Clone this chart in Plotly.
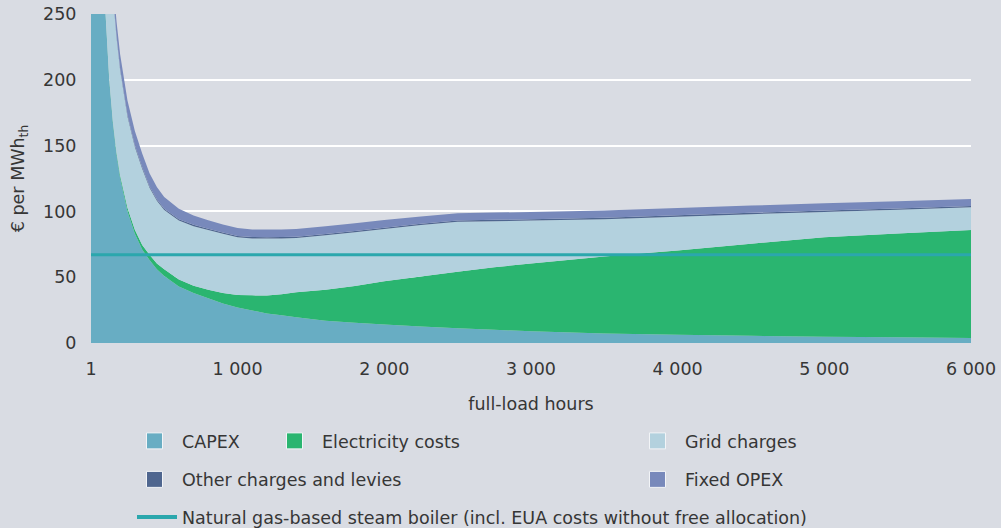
import plotly.graph_objects as go

# ---------------- data ----------------
hours = [1, 25, 50, 75, 100, 125, 150, 175, 200, 250, 300, 350, 400, 450, 500,
         600, 700, 800, 900, 1000, 1100, 1200, 1300, 1400, 1600, 1800, 2000,
         2250, 2500, 2750, 3000, 3500, 4000, 4500, 5000, 5500, 6000]

capex = [25000, 1000, 500, 333, 250, 200, 167, 143, 125, 100, 83, 71, 63, 56, 51,
         43, 38, 34, 30, 27, 24.7, 22.5, 21, 19.5, 17, 15.3, 14,
         12.5, 11.2, 10, 9, 7.3, 6.3, 5.5, 4.8, 4.3, 3.8]

electricity = [0, 0.5, 0.8, 0.9, 1, 1.3, 1.5, 1.8, 2, 2.5, 3, 3.5, 4, 4.5, 5,
               5.3, 5.5, 6.5, 8, 9.5, 11.5, 13.5, 16, 19, 23.5, 28, 33,
               38, 43, 47.5, 51.5, 58.5, 64, 70, 75.5, 79, 82]

grid_charges = [9694, 387.5, 227.5, 164.5, 130.5, 109.5, 96.5, 87.5, 80, 69.5, 63, 58, 51, 47.5, 45,
                44.7, 45.3, 45.4, 45, 43.9, 43.3, 43.4, 42.5, 41.3, 41.4, 40.9, 39.6,
                39.2, 37.9, 35.1, 32.5, 28.3, 25.7, 22.4, 19.3, 17.9, 17.3]

other_charges = [1, 1, 1, 1, 1, 1, 1, 1, 1, 1, 1, 1, 1, 1, 1,
                 1, 1, 1, 1, 1, 1, 1, 1, 1, 1, 1, 1,
                 1, 1, 1, 1, 1, 1, 1, 1, 1, 1]

fixed_opex = [11, 11, 11, 11, 11, 11, 11, 11, 11, 11, 11, 10.5, 10, 9.5, 9,
              8, 7, 6.3, 6, 5.9, 5.8, 5.8, 5.8, 5.8, 5.8, 5.8, 5.8,
              5.5, 5.5, 5.5, 5.5, 5.5, 5.5, 5.5, 5.5, 5.5, 5.3]

gas_hours = [1, 6000]
gas_boiler = [67, 67]

x_tickvals = [1, 1000, 2000, 3000, 4000, 5000, 6000]
x_ticktext = ["1", "1 000", "2 000", "3 000", "4 000", "5 000", "6 000"]
y_tickvals = [0, 50, 100, 150, 200, 250]

series = [
    ("CAPEX", capex, "#68adc3"),
    ("Electricity costs", electricity, "#2ab570"),
    ("Grid charges", grid_charges, "#b3d1de"),
    ("Other charges and levies", other_charges, "#4f668f"),
    ("Fixed OPEX", fixed_opex, "#7889bb"),
]
legend_of = {
    "CAPEX": "legend",
    "Electricity costs": "legend2",
    "Grid charges": "legend3",
    "Other charges and levies": "legend4",
    "Fixed OPEX": "legend5",
}

BG = "#d9dce3"
TXT = "#363636"
FONT = "DejaVu Sans"
FS = 17.5

fig = go.Figure()

for name, vals, col in series:
    fig.add_trace(go.Scatter(
        x=hours, y=vals, name=name, stackgroup="one", mode="none",
        fillcolor=col, showlegend=False, hoverinfo="skip",
    ))

fig.add_trace(go.Scatter(
    x=gas_hours, y=gas_boiler, mode="lines",
    line=dict(color="#2ba7ad", width=3), showlegend=False, hoverinfo="skip",
))

# legend entries
for name, vals, col in series:
    fig.add_trace(go.Scatter(
        x=[None], y=[None], mode="markers", name=name,
        marker=dict(symbol="square", size=16, color=col,
                    line=dict(color="#f2f4f7", width=1)),
        legend=legend_of[name], hoverinfo="skip",
    ))
fig.add_trace(go.Scatter(
    x=[None], y=[None], mode="lines",
    name="Natural gas-based steam boiler (incl. EUA costs without free allocation)",
    line=dict(color="#2ba7ad", width=4), legend="legend6", hoverinfo="skip",
))

def px_x(p):
    return (p - 91) / 880.0

def px_y(p):
    return (343 - p) / 329.0

leg_common = dict(font=dict(family=FONT, size=FS, color=TXT), bgcolor="rgba(0,0,0,0)",
                  xanchor="left", yanchor="top", itemwidth=45, borderwidth=0)

row1, row2, row3 = 423, 461.5, 499

fig.update_layout(
    width=1001, height=528,
    paper_bgcolor=BG, plot_bgcolor=BG,
    margin=dict(l=91, r=30, t=14, b=185, autoexpand=False),
    font=dict(family=FONT, size=FS, color=TXT),
    showlegend=True,
    legend=dict(x=px_x(127), y=px_y(row1), **leg_common),
    legend2=dict(x=px_x(267), y=px_y(row1), **leg_common),
    legend3=dict(x=px_x(630), y=px_y(row1), **leg_common),
    legend4=dict(x=px_x(127), y=px_y(row2), **leg_common),
    legend5=dict(x=px_x(630), y=px_y(row2), **leg_common),
    legend6=dict(x=px_x(132), y=px_y(row3), **{**leg_common, "itemwidth": 40}),
    xaxis=dict(
        range=[1, 6000], tickvals=x_tickvals, ticktext=x_ticktext,
        showgrid=False, zeroline=False, showline=False,
        ticks="outside", ticklen=10, tickcolor=BG,
        tickfont=dict(family=FONT, size=FS, color=TXT),
        title=dict(text="full-load hours", font=dict(family=FONT, size=FS, color=TXT), standoff=19),
    ),
    yaxis=dict(
        range=[0, 250], tickvals=y_tickvals,
        showgrid=True, gridcolor="white", gridwidth=2,
        zeroline=False, showline=False,
        ticks="outside", ticklen=10, tickcolor=BG,
        tickfont=dict(family=FONT, size=FS, color=TXT),
        title=dict(text="€ per MWh<sub>th</sub>", font=dict(family=FONT, size=FS, color=TXT), standoff=13),
    ),
)

fig.write_html(
    "out.html",
    config={"displayModeBar": False},
    post_script="document.body.style.margin='0';document.body.style.background='" + BG + "';",
)
